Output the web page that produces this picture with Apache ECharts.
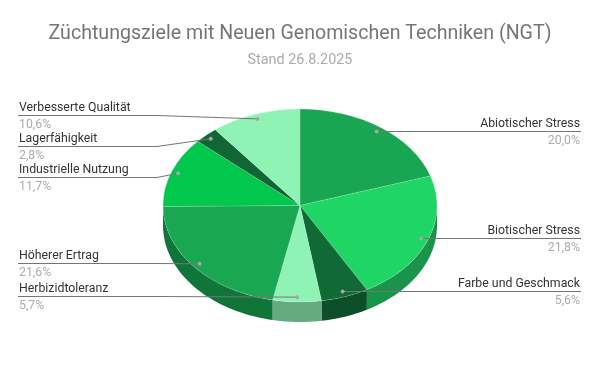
<!DOCTYPE html>
<html><head><meta charset="utf-8">
<style>html,body{margin:0;padding:0;background:#fff}#c{width:600px;height:371px}</style>
<script src="https://cdn.jsdelivr.net/npm/echarts@6/dist/echarts.min.js"></script>
</head><body><div id="c"></div>
<script>
const categories = ['Abiotischer Stress','Biotischer Stress','Farbe und Geschmack','Herbizidtoleranz','Höherer Ertrag','Industrielle Nutzung','Lagerfähigkeit','Verbesserte Qualität'];
const values = [20.0,21.8,5.6,5.7,21.6,11.7,2.8,10.6];
const topColors = ['#19a653','#1fd665','#106a35','#8ff3b5','#19a752','#02c74d','#106634','#8ff3b5'];
const wallColors = ['#127a3c','#19944a','#0c4f28','#65ab80','#107538','#028f38','#0c4f28','#65ab80'];
const leaderY = [131,238,291,296,263,177,146,115];

const CX=300, CY=205.5, RX=137, RY=96.5, DEPTH=20, ELBOW=157, LEFT=18, RIGHT=581;
const FONT='Roboto';
const total = values.reduce((a,b)=>a+b,0);
const starts=[]; let run=0;
values.forEach(v=>{starts.push(run/total*Math.PI*2-Math.PI/2); run+=v;});
const range = (i,api)=>{const t0=starts[i]; return [t0,t0+api.value(0)/total*Math.PI*2];};
const pt=(t,dy)=>[CX+RX*Math.cos(t),CY+RY*Math.sin(t)+(dy||0)];

function renderWall(p,api){
  const [a,b]=range(p.dataIndex,api);
  const from=Math.max(a,0), to=Math.min(b,Math.PI);
  if(to<=from) return {type:'group',children:[]};
  const top=[],bot=[],n=48;
  for(let k=0;k<=n;k++){const t=from+(to-from)*k/n; top.push(pt(t)); bot.unshift(pt(t,DEPTH));}
  return {type:'polygon',shape:{points:top.concat(bot)},style:{fill:wallColors[p.dataIndex]}};
}
function renderTop(p,api){
  const [a,b]=range(p.dataIndex,api);
  return {type:'sector',x:CX,y:CY,scaleY:RY/RX,
    shape:{cx:0,cy:0,r0:0,r:RX,startAngle:a,endAngle:b,clockwise:true},
    style:{fill:topColors[p.dataIndex],stroke:'rgba(255,255,255,0.3)',lineWidth:0.6}};
}
function renderLabel(p,api){
  const i=p.dataIndex,[a,b]=range(i,api),m=(a+b)/2;
  const d=[CX+0.95*RX*Math.cos(m),CY+0.95*RY*Math.sin(m)];
  const y=leaderY[i], ly=y+0.5, right=d[0]>CX, end=right?RIGHT:LEFT;
  const pts=right?[[d[0],ly],[end,ly]]:[d,[ELBOW,ly],[end,ly]];
  const tx=right?RIGHT-1:LEFT+1, align=right?'right':'left';
  return {type:'group',children:[
    {type:'polyline',shape:{points:pts},style:{fill:'none',stroke:'#757575',lineWidth:1}},
    {type:'circle',shape:{cx:d[0],cy:right?ly:d[1],r:2},style:{fill:'#a6a6a6'}},
    {type:'text',x:tx,y:y-1,style:{text:categories[i],align,verticalAlign:'bottom',font:'12.3px '+FONT,fill:'#333333'}},
    {type:'text',x:tx,y:y+4,style:{text:api.value(0).toFixed(1).replace('.',',')+'%',align,verticalAlign:'top',font:'12.3px '+FONT,fill:'#ababab'}}
  ]};
}
const data=values.map((v,i)=>({name:categories[i],value:[v]}));
const chart=echarts.init(document.getElementById('c'),null,{renderer:'canvas'});
chart.setOption({
  animation:false,
  backgroundColor:'#ffffff',
  title:{text:'Züchtungsziele mit Neuen Genomischen Techniken (NGT)',subtext:'Stand 26.8.2025',left:'center',top:19,itemGap:9,
    textStyle:{fontFamily:FONT,fontSize:19.6,fontWeight:'normal',color:'#757575'},
    subtextStyle:{fontFamily:FONT,fontSize:14.4,color:'#ababab'}},
  series:[
    {type:'custom',name:'Seite',coordinateSystem:'none',data,renderItem:renderWall,z:1,silent:true},
    {type:'custom',name:'Anteil',coordinateSystem:'none',data,renderItem:renderTop,z:2,silent:true},
    {type:'custom',name:'Beschriftung',coordinateSystem:'none',data,renderItem:renderLabel,z:3,silent:true}
  ]
});
</script></body></html>
